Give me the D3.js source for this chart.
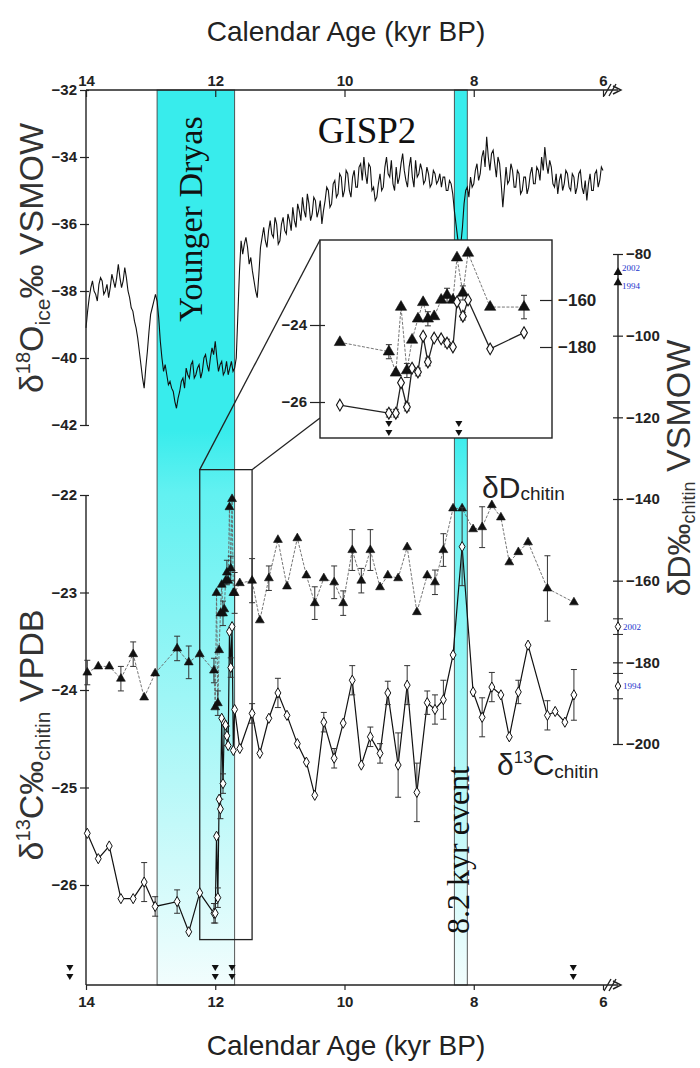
<!DOCTYPE html>
<html>
<head>
<meta charset="utf-8">
<script src="https://cdn.jsdelivr.net/npm/d3@7"></script>
<style>
  body { margin: 0; background: #fff; }
  svg { display: block; font-family: Arial, "Liberation Sans", sans-serif; }
</style>
</head>
<body>
<svg id="chart" width="700" height="1068"></svg>
<script>
// GISP2 d18O (per mil), one value every 0.025 kyr from 14.0 kyr
const gispStart = 14.0, gispStep = 0.025;
const gispD18O = [
  -39.1, -38.6, -38.2, -37.9, -37.7, -38.0, -38.1, -38.3, -37.8, -37.6,
  -37.7, -38.1, -38.0, -37.8, -38.2, -37.9, -37.5, -37.7, -37.9, -37.6,
  -37.2, -37.6, -37.9, -37.7, -37.3, -37.6, -38.0, -38.2, -38.5, -38.6,
  -38.9, -39.1, -39.4, -39.8, -40.2, -40.6, -40.9, -40.3, -39.8, -39.2,
  -38.7, -38.5, -38.3, -38.1, -38.3, -38.8, -39.5, -40.0, -40.4, -40.2,
  -40.5, -40.8, -40.7, -40.9, -41.0, -41.3, -41.5, -41.2, -41.0, -40.7,
  -40.6, -40.9, -40.3, -40.5, -40.6, -40.2, -40.1, -40.6, -40.5, -40.3,
  -40.2, -40.6, -40.4, -40.0, -39.9, -40.2, -40.4, -40.0, -39.7, -39.9,
  -39.5, -40.0, -40.4, -40.2, -40.1, -40.5, -40.4, -40.1, -40.5, -40.3,
  -40.1, -40.4, -40.3, -40.0, -38.7, -37.4, -36.5, -36.9, -36.6, -36.4,
  -36.7, -37.2, -37.0, -37.4, -37.7, -38.0, -38.2, -37.5, -36.7, -36.4,
  -36.1, -36.5, -36.7, -36.2, -35.9, -36.3, -36.4, -35.8, -36.0, -36.6,
  -36.5, -36.0, -35.8, -36.2, -36.3, -35.7, -35.9, -36.2, -35.5, -35.9,
  -36.1, -35.4, -35.6, -35.9, -35.2, -35.6, -35.8, -35.1, -35.4, -35.9,
  -35.7, -35.2, -35.3, -35.8, -35.6, -35.3, -36.0, -35.6, -35.3, -34.9,
  -35.0, -35.5, -35.4, -34.8, -34.7, -35.2, -35.1, -34.5, -34.6, -35.2,
  -35.0, -34.4, -34.5, -35.0, -35.2, -34.6, -34.4, -34.9, -34.9, -34.3,
  -34.2, -34.7, -34.0, -34.5, -34.8, -34.2, -34.3, -35.0, -34.9, -35.3,
  -35.2, -34.8, -34.5, -35.0, -34.9, -34.3, -34.0, -34.5, -34.6, -34.1,
  -34.8, -35.0, -34.3, -34.8, -34.6, -34.2, -33.9, -34.4, -34.7, -34.9,
  -34.3, -34.0, -34.6, -34.9, -34.1, -34.6, -34.5, -34.2, -34.4, -34.8,
  -34.7, -34.3, -34.5, -34.9, -34.8, -34.4, -34.5, -34.8, -34.7, -34.5,
  -34.9, -34.6, -34.6, -35.0, -35.0, -34.7, -34.8, -35.1, -35.6, -36.0,
  -36.4, -36.8, -36.6, -36.1, -35.4, -35.0, -34.9, -35.2, -34.6, -34.9,
  -34.8, -34.4, -34.2, -34.7, -34.5, -34.0, -33.8, -34.3, -33.4, -34.0,
  -34.4, -33.9, -33.8, -34.2, -34.6, -34.0, -34.2, -34.8, -35.5, -34.9,
  -34.3, -34.8, -34.7, -34.2, -34.4, -34.9, -34.9, -34.4, -34.5, -35.1,
  -35.0, -34.6, -34.6, -35.1, -34.9, -34.5, -34.3, -34.8, -34.8, -34.3,
  -34.4, -34.7, -34.0, -34.4, -33.7, -34.2, -34.5, -34.1, -34.3, -34.8,
  -34.9, -34.5, -35.1, -34.7, -34.5, -35.0, -34.8, -34.4, -34.5, -34.9,
  -35.0, -34.5, -34.6, -35.1, -34.9, -34.5, -34.4, -34.9, -35.1, -34.7,
  -35.3, -34.8, -34.5, -35.0, -35.0, -34.5, -34.4, -34.9, -34.7, -34.3,
  -34.4
];

// chitin samples before the zoomed section
const preAge  = [13.98, 13.81, 13.64, 13.46, 13.27, 13.10, 12.93, 12.59, 12.41];
const preD    = [-182.5, -181, -181, -184, -178, -188.6, -182.7, -176.6, -180];
const preDerr = [3, 0, 0, 3, 3, 0, 0, 3, 4];
const preC    = [-25.47, -25.73, -25.6, -26.14, -26.14, -25.97, -26.22, -26.17, -26.48];
const preCerr = [0, 0, 0, 0, 0, 0.2, 0.1, 0.12, 0];

// zoomed section (shown again in the inset)
const insetAge  = [12.24, 12.02, 12.00, 11.98, 11.96, 11.94, 11.92, 11.90, 11.88, 11.86, 11.84, 11.82, 11.80, 11.78, 11.76, 11.74, 11.72, 11.70];
const insetPos  = [612.6, 599.3, 597.4, 596.0, 594.4, 593.0, 591.4, 590.0, 588.7, 587.0, 585.1, 583.5, 581.9, 580.8, 579.2, 577.8, 571.8, 562.6];
const insetD    = [-178, -182, -191, -163, -190, -177, -168, -161, -168, -167, -160, -158, -160, -142, -157, -140, -163, -163];
const insetDerr = [0, 3, 0, 0, 3, 0, 0, 0, 3, 0, 0, 3, 0, 0, 3, 0, 0, 5];
const insetC    = [-26.08, -26.29, -26.29, -25.5, -26.13, -25.12, -25.22, -24.29, -24.96, -24.34, -24.36, -24.47, -24.57, -23.4, -23.77, -23.35, -24.62, -24.2];
const insetCerr = [0, 0.1, 0.1, 0, 0.1, 0, 0.1, 0, 0.1, 0, 0, 0.1, 0, 0, 0.1, 0, 0, 0];

// chitin samples after the zoomed section
const postAge  = [11.62, 11.43, 11.31, 11.17, 11.03, 10.89, 10.73, 10.59, 10.46, 10.32, 10.16, 10.02, 9.88, 9.74, 9.60, 9.45, 9.33, 9.17, 9.03, 8.88, 8.72, 8.60, 8.47, 8.32, 8.18, 8.01, 7.87, 7.72, 7.58, 7.45, 7.31, 7.16, 6.86, 6.74, 6.59, 6.45];
const postD    = [-160.6, -160, -169.7, -159.4, -150, -161.4, -149.6, -158.7, -165.5, -159.4, -160.4, -165.5, -152.5, -160, -152.5, -161.6, -158.7, -159.4, -151.8, -167.7, -158.7, -160.4, -152.5, -142.3, -142.3, -147.4, -146.9, -141.5, -144.5, -155.5, -153, -150.6, -161.9, null, null, -165.3];
const postDerr = [0, 5.4, 0, 3, 0, 0, 0, 0, 4, 0, 4, 3, 5, 3, 5, 0, 0, 0, 0, 0, 0, 3, 4, 0, 0, 0, 5, 0, 0, 0, 0, 0, 8, 0, 0, 0];
const postC    = [-24.6, -24.24, -24.65, -24.29, -24.03, -24.26, -24.55, -24.74, -25.08, -24.33, -24.7, -24.34, -23.9, -24.77, -24.48, -24.65, -24.03, -24.77, -23.95, -25.05, -24.13, -24.2, -24.1, -23.64, -22.53, -24.02, -24.28, -23.97, -24.05, -24.48, -24.02, -23.54, -24.26, -24.22, -24.33, -24.05];
const postCerr = [0, 0.1, 0, 0, 0.15, 0, 0, 0, 0, 0.1, 0.1, 0, 0.15, 0, 0.1, 0.1, 0.12, 0.33, 0.2, 0.3, 0.12, 0.15, 0.2, 0, 0.4, 0, 0.2, 0.15, 0, 0, 0.12, 0, 0.15, 0, 0, 0.26];

// modern samples marked on the right axis
const modernYear = ['2002', '1994'];
const modernD    = [-84.5, -87];
const modernC    = [-23.35, -23.96];
const modernCerr = [0.08, 0.13];

// radiocarbon dates (double arrowheads)
const dateAge = [14.25, 12.0, 11.74, 6.46];
const insetDatePos = [599.3, 580.3];

// climate events
const bandStart = [12.9, 8.3];
const bandEnd   = [11.7, 8.1];

// ticks
const ageTicks   = [14, 12, 10, 8, 6];
const d18OTicks  = [-32, -34, -36, -38, -40, -42];
const d13CTicks  = [-22, -23, -24, -25, -26];
const dDTicks    = [-80, -100, -120, -140, -160, -180, -200];
const insetCTicks = [-24, -26];
const insetDTicks = [-160, -180];

const svg = d3.select('#chart');
const plotTop = 90, plotBottom = 985;

const x  = d3.scaleLinear().domain([14, 6]).range([86, 603]);
const yO = d3.scaleLinear().domain([-32, -42]).range([plotTop, 425]);
const yC = d3.scaleLinear().domain([-22, -26]).range([495, 885]);
const yD = d3.scaleLinear().domain([-80, -200]).range([254, 744]);

const ix  = d3.scaleLinear().domain([618, 555]).range([320, 552]);
const iyC = d3.scaleLinear().domain([-24, -26]).range([325, 402]);
const iyD = d3.scaleLinear().domain([-160, -180]).range([300, 347]);
const insetTop = 240, insetBottom = 438;

const tickFont = 'bold 15px Arial, "Liberation Sans", sans-serif';

// gradient for the event bands
const defs = svg.append('defs');
const grad = defs.append('linearGradient').attr('id', 'fade')
  .attr('gradientUnits', 'userSpaceOnUse')
  .attr('x1', 0).attr('x2', 0).attr('y1', plotTop).attr('y2', plotBottom);
grad.append('stop').attr('offset', 0).attr('stop-color', '#38ecec');
grad.append('stop').attr('offset', 0.38).attr('stop-color', '#38ecec');
grad.append('stop').attr('offset', 0.45).attr('stop-color', '#62f1f1');
grad.append('stop').attr('offset', 1).attr('stop-color', '#f2fdfd');

svg.selectAll('rect.band')
  .data(bandStart)
  .enter().append('rect')
  .attr('class', 'band')
  .attr('x', (d, i) => x(d))
  .attr('width', (d, i) => x(bandEnd[i]) - x(d))
  .attr('y', plotTop)
  .attr('height', plotBottom - plotTop)
  .attr('fill', 'url(#fade)')
  .attr('stroke', '#444')
  .attr('stroke-width', 0.9);

// GISP2 curve
const gisp = gispD18O.map((v, i) => ({ age: gispStart - i * gispStep, v: v }));
svg.append('path')
  .datum(gisp)
  .attr('fill', 'none')
  .attr('stroke', '#111')
  .attr('stroke-width', 1.1)
  .attr('d', d3.line().x(d => x(d.age)).y(d => yO(d.v)));

// axes
function styleAxis(g, x1, x2) {
  g.select('.domain').remove();
  g.selectAll('.tick line').attr('stroke', '#222').attr('stroke-width', 1.2);
  if (x1 !== undefined) g.selectAll('.tick line').attr('x1', x1).attr('x2', x2);
  g.selectAll('.tick text').style('font', tickFont).attr('fill', '#222');
}

const axisLine = svg.append('g').attr('stroke', '#222').attr('stroke-width', 1.4).attr('fill', 'none');
axisLine.append('line').attr('x1', x(14)).attr('x2', 618).attr('y1', plotTop).attr('y2', plotTop);
axisLine.append('line').attr('x1', x(14)).attr('x2', x(14)).attr('y1', plotTop).attr('y2', yO(-42));
axisLine.append('line').attr('x1', x(14)).attr('x2', x(14)).attr('y1', yC(-22)).attr('y2', plotBottom);
axisLine.append('line').attr('x1', x(14)).attr('x2', 618).attr('y1', plotBottom).attr('y2', plotBottom);
axisLine.append('line').attr('x1', 618).attr('x2', 618).attr('y1', yD(-80)).attr('y2', yD(-200));
[plotTop, plotBottom].forEach(yy => {
  axisLine.append('path').attr('d', `M604,${yy + 6} L611,${yy - 6} M609,${yy + 6} L616,${yy - 6}`);
  axisLine.append('path').attr('d', `M613,${yy - 4} L621,${yy} L613,${yy + 4}`);
});

svg.append('g').attr('transform', `translate(0,${plotTop})`)
  .call(d3.axisTop(x).tickValues(ageTicks).tickFormat(d3.format('d')).tickSize(-7).tickPadding(4))
  .call(g => styleAxis(g));
svg.append('g').attr('transform', `translate(0,${plotBottom})`)
  .call(d3.axisBottom(x).tickValues(ageTicks).tickFormat(d3.format('d')).tickSize(5).tickPadding(6))
  .call(g => styleAxis(g));
svg.append('g').attr('transform', `translate(${x(14)},0)`)
  .call(d3.axisLeft(yO).tickValues(d18OTicks).tickFormat(d3.format('d')).tickSize(6).tickPadding(3))
  .call(g => styleAxis(g, -6, 3));
svg.append('g').attr('transform', `translate(${x(14)},0)`)
  .call(d3.axisLeft(yC).tickValues(d13CTicks).tickFormat(d3.format('d')).tickSize(6).tickPadding(3))
  .call(g => styleAxis(g, -6, 3));
svg.append('g').attr('transform', 'translate(618,0)')
  .call(d3.axisRight(yD).tickValues(dDTicks).tickFormat(d3.format('d')).tickSize(5).tickPadding(3))
  .call(g => styleAxis(g, -5, 5));

// zoom box and connectors
const boxX0 = x(12.24), boxX1 = x(11.43), boxY0 = yC(-21.74), boxY1 = yC(-26.56);
svg.append('rect')
  .attr('x', boxX0).attr('y', boxY0)
  .attr('width', boxX1 - boxX0).attr('height', boxY1 - boxY0)
  .attr('fill', 'none').attr('stroke', '#222').attr('stroke-width', 1.3);
svg.append('line').attr('x1', boxX0).attr('y1', boxY0).attr('x2', ix(618)).attr('y2', insetTop)
  .attr('stroke', '#222').attr('stroke-width', 1.3);
svg.append('line').attr('x1', boxX1).attr('y1', boxY0).attr('x2', ix(618)).attr('y2', insetBottom - 20)
  .attr('stroke', '#222').attr('stroke-width', 1.3);

// helpers for the chitin series
function drawSeries(g, data, xf, yf, key, errKey, opts) {
  const pts = data.filter(d => d[key] !== null);
  g.append('path')
    .datum(pts)
    .attr('fill', 'none')
    .attr('stroke', opts.lineColor)
    .attr('stroke-width', opts.lineWidth)
    .attr('stroke-dasharray', opts.dash)
    .attr('d', d3.line().x(d => xf(d)).y(d => yf(d[key])));
  const err = pts.filter(d => d[errKey] > 0);
  g.selectAll(null).data(err).enter().append('path')
    .attr('fill', 'none').attr('stroke', '#333').attr('stroke-width', 1)
    .attr('d', d => {
      const cx = xf(d), a = yf(d[key] + d[errKey]), b = yf(d[key] - d[errKey]);
      return `M${cx},${a} L${cx},${b} M${cx - 3},${a} L${cx + 3},${a} M${cx - 3},${b} L${cx + 3},${b}`;
    });
  g.selectAll(null).data(pts).enter().append('path')
    .attr('transform', d => `translate(${xf(d)},${yf(d[key])})`)
    .attr('d', d3.symbol().type(opts.symbol).size(opts.size))
    .attr('fill', opts.fill)
    .attr('stroke', '#111')
    .attr('stroke-width', opts.strokeWidth);
}

function downMarks(g, xs, y0) {
  xs.forEach(cx => {
    [y0, y0 + 9].forEach(cy => {
      g.append('path')
        .attr('d', d3.symbol().type(d3.symbolTriangle).size(22))
        .attr('transform', `translate(${cx},${cy}) rotate(180)`)
        .attr('fill', '#111');
    });
  });
}

function samples(ages, dv, de, cv, ce, pos) {
  return ages.map((a, i) => ({ age: a, pos: pos ? pos[i] : null, d: dv[i], de: de[i], c: cv[i], ce: ce[i] }));
}

const main = samples(preAge, preD, preDerr, preC, preCerr)
  .concat(samples(insetAge, insetD, insetDerr, insetC, insetCerr))
  .concat(samples(postAge, postD, postDerr, postC, postCerr));

const lower = svg.append('g');
drawSeries(lower, main, d => x(d.age), yD, 'd', 'de',
  { lineColor: '#666', lineWidth: 0.9, dash: '3,1.5', symbol: d3.symbolTriangle, size: 34, fill: '#111', strokeWidth: 0.6 });
drawSeries(lower, main, d => x(d.age), yC, 'c', 'ce',
  { lineColor: '#111', lineWidth: 1.2, dash: null, symbol: d3.symbolDiamond, size: 30, fill: '#fff', strokeWidth: 1 });
downMarks(lower, dateAge.map(a => x(a)), plotBottom - 18);

// modern samples on the right axis
const modern = svg.append('g');
modernYear.forEach((yr, i) => {
  modern.append('path')
    .attr('transform', `translate(618,${yD(modernD[i])})`)
    .attr('d', d3.symbol().type(d3.symbolTriangle).size(34))
    .attr('fill', '#111');
  modern.append('text')
    .attr('x', 622).attr('y', yD(modernD[i]) + (i === 0 ? -1 : 6))
    .attr('font-family', '"Liberation Serif", "Times New Roman", serif')
    .attr('font-size', 9).attr('fill', '#2233cc')
    .text(yr);
  const a = yC(modernC[i] + modernCerr[i]), b = yC(modernC[i] - modernCerr[i]);
  modern.append('path')
    .attr('d', `M613,${a} L623,${a} M613,${b} L623,${b}`)
    .attr('stroke', '#222').attr('stroke-width', 1);
  modern.append('path')
    .attr('transform', `translate(618,${yC(modernC[i])})`)
    .attr('d', d3.symbol().type(d3.symbolDiamond).size(26))
    .attr('fill', '#fff').attr('stroke', '#111');
  modern.append('text')
    .attr('x', 623).attr('y', yC(modernC[i]) + 3)
    .attr('font-family', '"Liberation Serif", "Times New Roman", serif')
    .attr('font-size', 9).attr('fill', '#2233cc')
    .text(yr);
});

// inset
const inset = svg.append('g');
inset.append('rect')
  .attr('x', ix(618)).attr('y', insetTop)
  .attr('width', ix(555) - ix(618)).attr('height', insetBottom - insetTop)
  .attr('fill', '#fff').attr('stroke', '#222').attr('stroke-width', 1.4);
const insetData = samples(insetAge, insetD, insetDerr, insetC, insetCerr, insetPos);
drawSeries(inset, insetData, d => ix(d.pos), iyD, 'd', 'de',
  { lineColor: '#777', lineWidth: 1, dash: '3,1.5', symbol: d3.symbolTriangle, size: 55, fill: '#111', strokeWidth: 0.6 });
drawSeries(inset, insetData, d => ix(d.pos), iyC, 'c', 'ce',
  { lineColor: '#222', lineWidth: 1.3, dash: null, symbol: d3.symbolDiamond, size: 40, fill: '#fff', strokeWidth: 1.1 });
downMarks(inset, insetDatePos.map(p => ix(p)), insetBottom - 15);
inset.append('g').attr('transform', `translate(${ix(618)},0)`)
  .call(d3.axisLeft(iyC).tickValues(insetCTicks).tickFormat(d3.format('d')).tickSize(10).tickPadding(3))
  .call(g => styleAxis(g, -10, 5));
inset.append('g').attr('transform', `translate(${ix(555)},0)`)
  .call(d3.axisRight(iyD).tickValues(insetDTicks).tickFormat(d3.format('d')).tickSize(-12).tickPadding(6))
  .call(g => styleAxis(g))
  .call(g => g.selectAll('.tick text').style('font-size', '17px'));

// titles and labels
const serif = '"Liberation Serif", "Times New Roman", serif';
svg.append('text').attr('x', 346).attr('y', 41).attr('text-anchor', 'middle')
  .attr('font-size', 28).attr('fill', '#222').text('Calendar Age (kyr BP)');
svg.append('text').attr('x', 346).attr('y', 1055).attr('text-anchor', 'middle')
  .attr('font-size', 28).attr('fill', '#222').text('Calendar Age (kyr BP)');

svg.append('text').attr('x', 367).attr('y', 143).attr('text-anchor', 'middle')
  .attr('font-family', serif).attr('font-size', 37).attr('fill', '#111').text('GISP2');
svg.append('text').attr('transform', `translate(${(x(12.9) + x(11.7)) / 2 + 6},219) rotate(-90)`)
  .attr('text-anchor', 'middle').attr('font-family', serif).attr('font-size', 34).attr('fill', '#111')
  .text('Younger Dryas');
svg.append('text').attr('transform', `translate(${x(8.2) + 8},850) rotate(-90)`)
  .attr('text-anchor', 'middle').attr('font-family', serif).attr('font-size', 32).attr('fill', '#111')
  .text('8.2 kyr event');

function richLabel(sel, parts) {
  parts.forEach(p => {
    sel.append('tspan').attr('font-size', p.size).attr('dy', p.dy || 0).text(p.t);
  });
}

const labO = svg.append('text').attr('transform', 'translate(43,258) rotate(-90)')
  .attr('text-anchor', 'middle').attr('fill', '#333');
richLabel(labO, [
  { t: 'δ', size: 34 }, { t: '18', size: 20, dy: -13 }, { t: 'O', size: 34, dy: 13 },
  { t: 'ice', size: 21, dy: 7 }, { t: '‰', size: 34, dy: -7 }, { t: ' VSMOW', size: 34 }
]);
const labC = svg.append('text').attr('transform', 'translate(43,735) rotate(-90)')
  .attr('text-anchor', 'middle').attr('fill', '#333');
richLabel(labC, [
  { t: 'δ', size: 34 }, { t: '13', size: 20, dy: -13 }, { t: 'C', size: 34, dy: 13 },
  { t: '‰', size: 34 }, { t: 'chitin', size: 21, dy: 7 }, { t: '  VPDB', size: 34, dy: -7 }
]);
const labD = svg.append('text').attr('transform', 'translate(690,468) rotate(-90)')
  .attr('text-anchor', 'middle').attr('fill', '#333');
richLabel(labD, [
  { t: 'δD', size: 32 }, { t: '‰', size: 32 }, { t: 'chitin', size: 18, dy: 5 }, { t: ' VSMOW', size: 34, dy: -5 }
]);

const labDs = svg.append('text').attr('x', 482).attr('y', 498).attr('fill', '#222');
richLabel(labDs, [{ t: 'δD', size: 30 }, { t: 'chitin', size: 19, dy: 2 }]);
const labCs = svg.append('text').attr('x', 497).attr('y', 775).attr('fill', '#222');
richLabel(labCs, [
  { t: 'δ', size: 30 }, { t: '13', size: 17, dy: -12 }, { t: 'C', size: 30, dy: 12 }, { t: 'chitin', size: 19, dy: 3 }
]);
</script>
</body>
</html>
